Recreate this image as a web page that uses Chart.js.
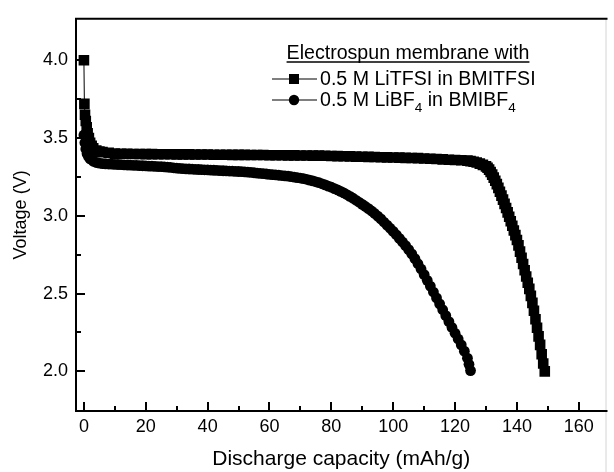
<!DOCTYPE html>
<html>
<head>
<meta charset="utf-8">
<script src="https://cdn.jsdelivr.net/npm/chart.js@4.4.1/dist/chart.umd.min.js"></script>
<style>
  html, body { margin: 0; padding: 0; background: #fff; }
  #wrap { width: 614px; height: 472px; }
</style>
</head>
<body>
<div id="wrap"><canvas id="c" width="614" height="472"></canvas></div>
<script>
// ---- Data ----
const sqCap = [0, 0.15, 0.35, 0.6, 0.9, 1.2, 1.6, 2, 2.5, 3, 4, 5, 6,
  8, 10, 12, 14, 16, 18, 20, 22, 24, 26, 28, 30, 32, 34, 36, 38, 40, 42, 44, 46, 48, 50,
  52, 54, 56, 58, 60, 62, 64, 66, 68, 70, 72, 74, 76, 78, 80, 82, 84, 86, 88, 90, 92, 94,
  96, 98, 100, 102, 104, 106, 108, 110, 112, 114, 116, 118, 120, 122, 124, 125, 126, 127,
  128, 129, 130, 130.5, 131, 131.5, 132, 132.5, 133, 133.5, 134, 134.5, 135, 135.5, 136,
  136.5, 137, 137.5, 138, 138.5, 139, 139.5, 140, 140.5, 141, 141.5, 142, 142.5, 143,
  143.5, 144, 144.5, 145, 145.5, 146, 146.5, 147, 147.5, 148, 148.5, 149];
const sqVolt = [4.00, 3.72, 3.65, 3.61, 3.57, 3.53, 3.50, 3.47, 3.45, 3.435, 3.42, 3.413, 3.41,
  3.405, 3.40, 3.399, 3.399, 3.398, 3.398, 3.397, 3.397, 3.396, 3.396, 3.396, 3.395, 3.395,
  3.395, 3.394, 3.394, 3.394, 3.393, 3.393, 3.393, 3.392, 3.392, 3.392, 3.391, 3.391, 3.391,
  3.390, 3.390, 3.390, 3.389, 3.389, 3.388, 3.388, 3.387, 3.387, 3.386, 3.385, 3.384, 3.383,
  3.382, 3.381, 3.380, 3.379, 3.378, 3.377, 3.376, 3.375, 3.374, 3.373, 3.372, 3.371, 3.369,
  3.367, 3.365, 3.363, 3.361, 3.359, 3.357, 3.355, 3.352, 3.348, 3.343, 3.336, 3.328, 3.318,
  3.309, 3.297, 3.282, 3.265, 3.246, 3.226, 3.204, 3.18, 3.155, 3.13, 3.104, 3.077, 3.05,
  3.022, 2.994, 2.965, 2.936, 2.906, 2.876, 2.845, 2.81, 2.77, 2.73, 2.69, 2.65, 2.61, 2.57,
  2.53, 2.485, 2.44, 2.39, 2.335, 2.28, 2.225, 2.17, 2.11, 2.05, 2.00];

const ciCap = [0, 0.3, 0.6, 1, 1.5, 2, 3, 4, 5, 6, 7, 8, 9, 10, 11, 12, 13, 14, 15, 16, 17,
  18, 19, 20, 21, 22, 23, 24, 25, 26, 27, 28, 29, 30, 31, 32, 33, 34, 35, 36, 37, 38, 39, 40,
  41, 42, 43, 44, 45, 46, 47, 48, 49, 50, 51, 52, 53, 54, 55, 56, 57, 58, 59, 60, 61, 62, 63,
  64, 65, 66, 67, 68, 69, 70, 71, 72, 73, 74, 75, 76, 77, 78, 79, 80, 81, 82, 83, 84, 85, 86,
  87, 88, 89, 90, 91, 92, 93, 94, 95, 96, 97, 98, 99, 100, 101, 102, 103, 104, 105, 106, 107,
  108, 109, 110, 111, 112, 113, 114, 115, 116, 117, 118, 119, 120, 121, 122, 123, 124, 124.5, 125];
const ciVolt = [3.52, 3.47, 3.43, 3.40, 3.38, 3.366, 3.351, 3.343, 3.339, 3.336, 3.334, 3.333,
  3.332, 3.331, 3.330, 3.329, 3.328, 3.327, 3.326, 3.325, 3.324, 3.323, 3.322, 3.321, 3.320,
  3.319, 3.318, 3.317, 3.316, 3.315, 3.313, 3.311, 3.309, 3.307, 3.305, 3.303, 3.302, 3.301,
  3.30, 3.299, 3.298, 3.297, 3.296, 3.295, 3.294, 3.293, 3.292, 3.291, 3.29, 3.289, 3.288,
  3.287, 3.286, 3.285, 3.284, 3.283, 3.281, 3.279, 3.277, 3.275, 3.273, 3.271, 3.269, 3.267,
  3.265, 3.263, 3.261, 3.259, 3.257, 3.255, 3.252, 3.249, 3.246, 3.243, 3.239, 3.235, 3.23,
  3.225, 3.219, 3.213, 3.206, 3.199, 3.191, 3.184, 3.175, 3.167, 3.157, 3.148, 3.137, 3.125,
  3.113, 3.10, 3.087, 3.074, 3.06, 3.046, 3.031, 3.015, 2.998, 2.98, 2.96, 2.94, 2.92, 2.90,
  2.878, 2.855, 2.832, 2.808, 2.783, 2.755, 2.725, 2.692, 2.658, 2.622, 2.585, 2.548, 2.51,
  2.472, 2.434, 2.396, 2.358, 2.32, 2.282, 2.245, 2.208, 2.17, 2.13, 2.085, 2.045, 2.005];

const xTicks = [0, 20, 40, 60, 80, 100, 120, 140, 160];
const xMinorTicks = [10, 30, 50, 70, 90, 110, 130, 150];
const yTicks = [2.0, 2.5, 3.0, 3.5, 4.0];
const yMinorTicks = [2.25, 2.75, 3.25, 3.75];

const seriesNames = ['0.5 M LiTFSI in BMITFSI', '0.5 M LiBF4 in BMIBF4'];
const legendTitle = 'Electrospun membrane with';
const xTitle = 'Discharge capacity (mAh/g)';
const yTitle = 'Voltage (V)';

// ---- Chart ----
const FONT = '"Liberation Sans", Arial, Helvetica, sans-serif';
const toPts = (xs, ys) => xs.map((x, i) => ({ x: x, y: ys[i] }));

const framePlugin = {
  id: 'frame',
  afterDraw(chart) {
    const ctx = chart.ctx, a = chart.chartArea;
    const xs = chart.scales.x, ys = chart.scales.y;
    ctx.save();
    ctx.strokeStyle = '#d4d4d4';
    ctx.lineWidth = 1;
    ctx.beginPath();
    ctx.moveTo(a.right - 0.5, a.top);
    ctx.lineTo(a.right - 0.5, 472);
    ctx.stroke();

    ctx.strokeStyle = '#000';
    ctx.lineWidth = 2;
    ctx.lineCap = 'square';
    ctx.beginPath();
    ctx.moveTo(a.right, a.top); ctx.lineTo(a.left, a.top);
    ctx.lineTo(a.left, a.bottom); ctx.lineTo(a.right, a.bottom);
    ctx.stroke();
    ctx.lineCap = 'butt';
    ctx.beginPath();
    xTicks.forEach(v => { const p = Math.round(xs.getPixelForValue(v)); ctx.moveTo(p, a.bottom); ctx.lineTo(p, a.bottom - 9); });
    xMinorTicks.forEach(v => { const p = Math.round(xs.getPixelForValue(v)); ctx.moveTo(p, a.bottom); ctx.lineTo(p, a.bottom - 5); });
    yTicks.forEach(v => { const p = Math.round(ys.getPixelForValue(v)); ctx.moveTo(a.left, p); ctx.lineTo(a.left + 9, p); });
    yMinorTicks.forEach(v => { const p = Math.round(ys.getPixelForValue(v)); ctx.moveTo(a.left, p); ctx.lineTo(a.left + 5, p); });
    ctx.stroke();

    // ---- Legend ----
    ctx.fillStyle = '#000';
    ctx.textBaseline = 'alphabetic';
    ctx.font = '19.6px ' + FONT;
    const tw = ctx.measureText(legendTitle).width;
    const tcx = 408;
    ctx.fillText(legendTitle, tcx - tw / 2, 59);
    ctx.lineWidth = 1.5;
    ctx.beginPath();
    ctx.moveTo(tcx - tw / 2, 62); ctx.lineTo(tcx + tw / 2, 62);
    ctx.stroke();

    const rows = [79, 100];
    const x0 = 272, x1 = 317, xm = 294, tx = 320;
    rows.forEach((ry, i) => {
      ctx.lineWidth = 1.2;
      ctx.beginPath(); ctx.moveTo(x0, ry); ctx.lineTo(x1, ry); ctx.stroke();
      ctx.beginPath();
      if (i === 0) { ctx.rect(xm - 5, ry - 5, 10, 10); }
      else { ctx.arc(xm, ry, 5.2, 0, Math.PI * 2); }
      ctx.fill();
    });
    ctx.textBaseline = 'middle';
    ctx.font = '19.6px ' + FONT;
    ctx.fillText(seriesNames[0], tx, rows[0] + 1);
    const parts = [['0.5 M LiBF', false], ['4', true], [' in BMIBF', false], ['4', true]];
    let cx = tx;
    parts.forEach(([t, sub]) => {
      ctx.font = (sub ? '13.5px ' : '19.6px ') + FONT;
      ctx.fillText(t, cx, rows[1] + 1 + (sub ? 7 : 0));
      cx += ctx.measureText(t).width;
    });
    ctx.restore();
  }
};

new Chart(document.getElementById('c'), {
  type: 'scatter',
  data: {
    datasets: [
      {
        label: seriesNames[1],
        data: toPts(ciCap, ciVolt),
        showLine: true,
        borderColor: '#000',
        borderWidth: 1,
        backgroundColor: '#000',
        pointStyle: 'circle',
        pointRadius: 5.4,
        pointBorderWidth: 0,
        pointBackgroundColor: '#000'
      },
      {
        label: seriesNames[0],
        data: toPts(sqCap, sqVolt),
        showLine: true,
        borderColor: '#000',
        borderWidth: 1,
        backgroundColor: '#000',
        pointStyle: 'rect',
        pointRadius: 7.5,
        pointBorderWidth: 0,
        pointBackgroundColor: '#000'
      }
    ]
  },
  options: {
    responsive: false,
    devicePixelRatio: 1,
    animation: false,
    events: [],
    layout: { padding: { top: 12, right: 2, left: 0, bottom: 0 } },
    plugins: { legend: { display: false }, tooltip: { enabled: false } },
    elements: { line: { tension: 0 } },
    scales: {
      x: {
        type: 'linear',
        min: -2.56,
        max: 168.96,
        grid: { display: false, drawTicks: false },
        border: { display: false },
        afterBuildTicks: s => { s.ticks = xTicks.map(v => ({ value: v })); },
        afterFit: s => { s.height = 61; },
        ticks: {
          color: '#000',
          padding: 5,
          maxRotation: 0,
          font: { family: FONT, size: 18 },
          callback: v => String(v)
        },
        title: {
          display: true,
          text: xTitle,
          color: '#000',
          padding: { top: 0, bottom: 0 },
          font: { family: FONT, size: 21 }
        }
      },
      y: {
        type: 'linear',
        min: 1.745,
        max: 4.267,
        grid: { display: false, drawTicks: false },
        border: { display: false },
        afterBuildTicks: s => { s.ticks = yTicks.map(v => ({ value: v })); },
        afterFit: s => { s.width = 76; },
        ticks: {
          color: '#000',
          padding: 8,
          font: { family: FONT, size: 18 },
          callback: v => Number(v).toFixed(1)
        },
        title: {
          display: true,
          text: yTitle,
          color: '#000',
          padding: { top: 10, bottom: 0 },
          font: { family: FONT, size: 18 }
        }
      }
    }
  },
  plugins: [framePlugin]
});
</script>
</body>
</html>
